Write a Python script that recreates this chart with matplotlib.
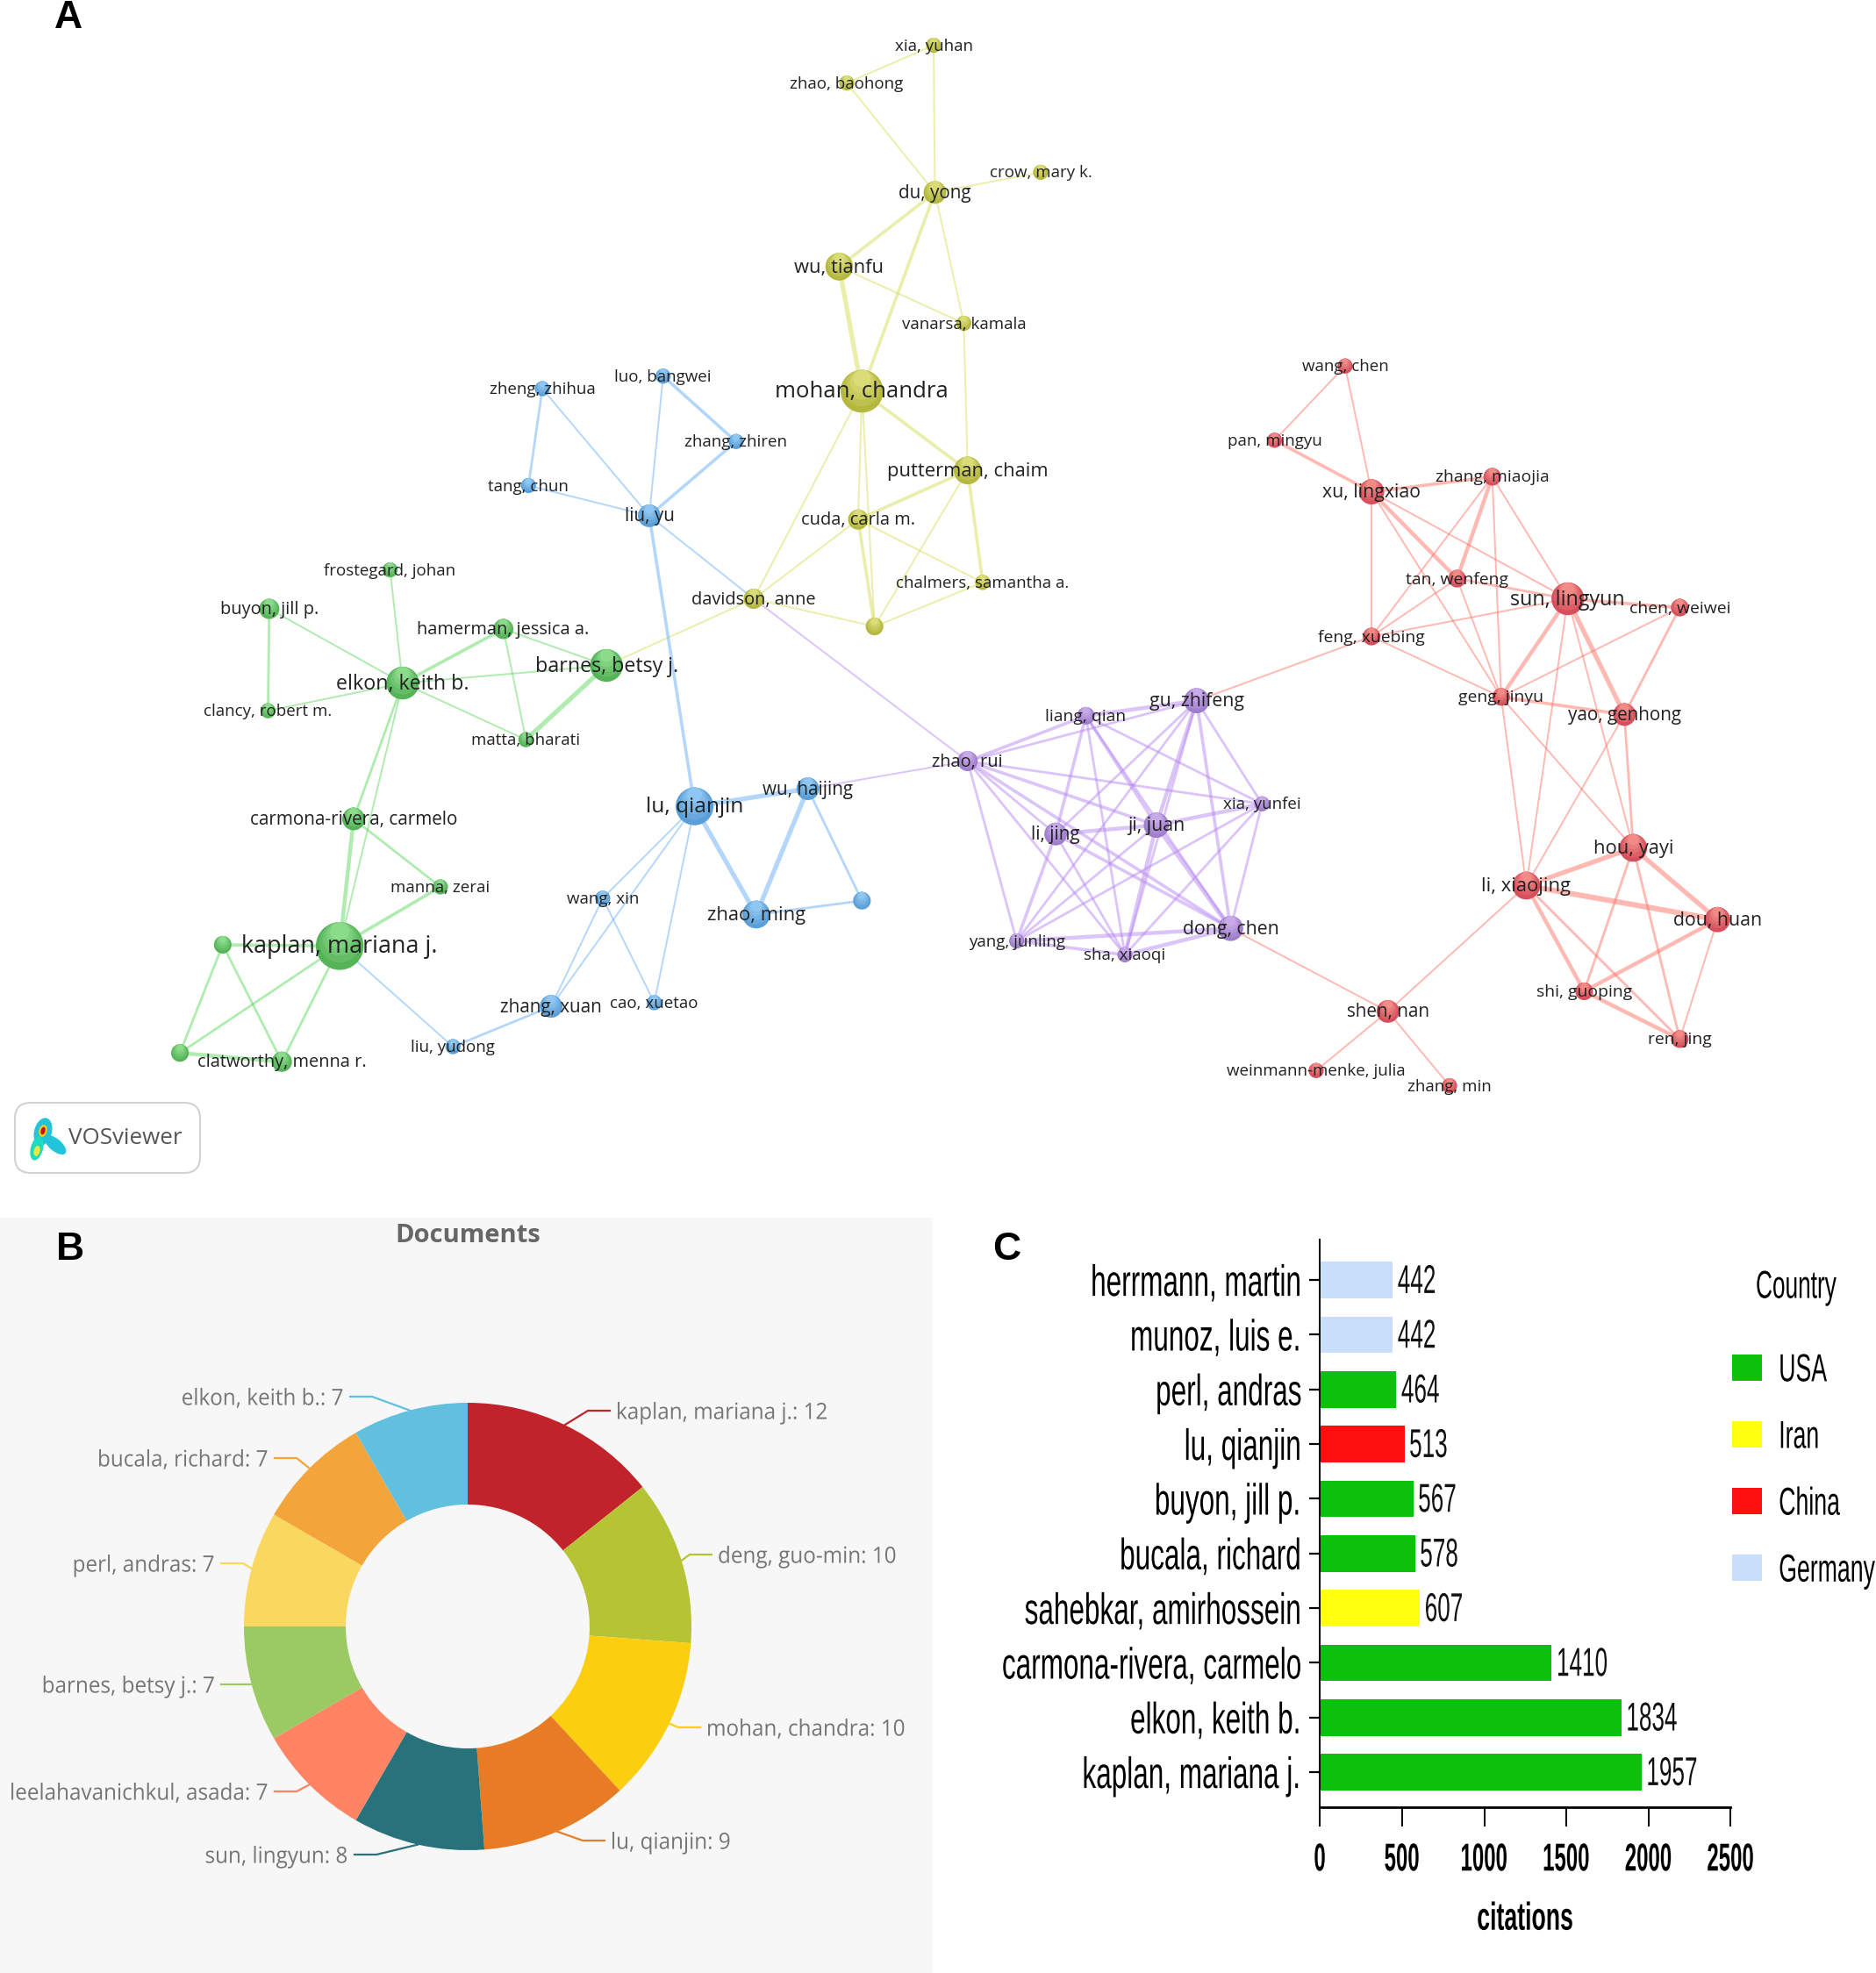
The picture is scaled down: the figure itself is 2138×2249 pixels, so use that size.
import numpy as np
import matplotlib
matplotlib.use("Agg")
import matplotlib.pyplot as plt
import matplotlib.colors as mcolors
from matplotlib.patches import FancyBboxPatch, Ellipse, Patch
from matplotlib.patheffects import AbstractPathEffect
from matplotlib.transforms import Affine2D, Bbox

W, H = 2138, 2249
SCALE = 1.434  # network layout was read at 1491 px wide

# ---- panel A: co-authorship network
yellow_nodes = [("xia, yuhan", 742, 36, 6), ("zhao, baohong", 673, 66, 6), ("du, yong", 743, 153, 9),
                ("crow, mary k.", 827, 137, 6), ("wu, tianfu", 667, 212, 11), ("vanarsa, kamala", 766, 257, 6),
                ("mohan, chandra", 685, 311, 17), ("putterman, chaim", 769, 374, 11), ("cuda, carla m.", 682, 413, 8),
                ("chalmers, samantha a.", 781, 463, 6), ("davidson, anne", 599, 476, 8), ("", 695, 498, 7)]
blue_nodes = [("zheng, zhihua", 431, 309, 6), ("luo, bangwei", 527, 299, 6), ("zhang, zhiren", 585, 351, 6),
              ("tang, chun", 420, 386, 6), ("liu, yu", 516, 410, 9), ("lu, qianjin", 552, 641, 15),
              ("wu, haijing", 642, 627, 9), (" ", 685, 716, 7), ("zhao, ming", 601, 727, 11),
              ("wang, xin", 479, 714, 6), ("zhang, xuan", 438, 800, 9), ("cao, xuetao", 520, 797, 6),
              ("liu, yudong", 360, 832, 6)]
green_nodes = [("frostegard, johan", 310, 453, 6), ("buyon, jill p.", 214, 484, 8), ("hamerman, jessica a.", 400, 500, 8),
               ("barnes, betsy j.", 482, 529, 13), ("elkon, keith b.", 320, 543, 13), ("clancy, robert m.", 213, 565, 6),
               ("matta, bharati", 418, 588, 6), ("carmona-rivera, carmelo", 281, 651, 9), ("manna, zerai", 350, 705, 6),
               ("kaplan, mariana j.", 270, 752, 19), ("  ", 177, 751, 7), ("   ", 143, 837, 7),
               ("clatworthy, menna r.", 224, 844, 8)]
purple_nodes = [("gu, zhifeng", 951, 557, 10), ("liang, qian", 863, 569, 7), ("zhao, rui", 769, 605, 8),
                ("xia, yunfei", 1003, 639, 6), ("ji, juan", 919, 656, 10), ("li, jing", 839, 663, 9),
                ("yang, junling", 808, 748, 6), ("sha, xiaoqi", 894, 759, 6), ("dong, chen", 978, 738, 10)]
red_nodes = [("wang, chen", 1069, 291, 6), ("pan, mingyu", 1013, 350, 6), ("xu, lingxiao", 1090, 391, 10),
             ("zhang, miaojia", 1186, 379, 7), ("tan, wenfeng", 1158, 460, 7), ("sun, lingyun", 1246, 476, 13),
             ("chen, weiwei", 1335, 483, 7), ("feng, xuebing", 1090, 506, 7), ("geng, jinyu", 1193, 554, 7),
             ("yao, genhong", 1291, 568, 9), ("hou, yayi", 1298, 674, 11), ("li, xiaojing", 1213, 704, 11),
             ("dou, huan", 1365, 731, 10), ("shi, guoping", 1259, 788, 7), ("ren, jing", 1335, 826, 7),
             ("shen, nan", 1103, 804, 9), ("weinmann-menke, julia", 1046, 851, 6), ("zhang, min", 1152, 863, 6)]

yellow_edges = [("xia, yuhan", "zhao, baohong", 1), ("xia, yuhan", "du, yong", 1), ("zhao, baohong", "du, yong", 1),
                ("du, yong", "crow, mary k.", 1), ("du, yong", "wu, tianfu", 2), ("du, yong", "vanarsa, kamala", 1),
                ("du, yong", "mohan, chandra", 2), ("wu, tianfu", "mohan, chandra", 3), ("wu, tianfu", "vanarsa, kamala", 1),
                ("vanarsa, kamala", "putterman, chaim", 1), ("mohan, chandra", "putterman, chaim", 2),
                ("mohan, chandra", "cuda, carla m.", 1), ("mohan, chandra", "", 1), ("mohan, chandra", "davidson, anne", 1),
                ("putterman, chaim", "cuda, carla m.", 2), ("putterman, chaim", "chalmers, samantha a.", 2),
                ("putterman, chaim", "", 1), ("cuda, carla m.", "", 2), ("cuda, carla m.", "davidson, anne", 1),
                ("cuda, carla m.", "chalmers, samantha a.", 1), ("chalmers, samantha a.", "", 1),
                ("davidson, anne", "", 1), ("davidson, anne", "barnes, betsy j.", 1)]
blue_edges = [("zheng, zhihua", "tang, chun", 1.5), ("zheng, zhihua", "liu, yu", 1), ("luo, bangwei", "zhang, zhiren", 2),
              ("luo, bangwei", "liu, yu", 1), ("zhang, zhiren", "liu, yu", 2), ("tang, chun", "liu, yu", 1),
              ("liu, yu", "lu, qianjin", 2), ("liu, yu", "davidson, anne", 1), ("lu, qianjin", "wu, haijing", 3),
              ("lu, qianjin", "zhao, ming", 3), ("lu, qianjin", "wang, xin", 1), ("lu, qianjin", "zhang, xuan", 1),
              ("lu, qianjin", "cao, xuetao", 1), ("wu, haijing", "zhao, ming", 3), ("wu, haijing", " ", 1.5),
              ("zhao, ming", " ", 1.5), ("wang, xin", "zhang, xuan", 1), ("wang, xin", "cao, xuetao", 1),
              ("zhang, xuan", "liu, yudong", 1.5), ("kaplan, mariana j.", "liu, yudong", 1)]
green_edges = [("frostegard, johan", "elkon, keith b.", 1), ("buyon, jill p.", "elkon, keith b.", 1),
               ("buyon, jill p.", "clancy, robert m.", 1.5), ("clancy, robert m.", "elkon, keith b.", 1),
               ("elkon, keith b.", "hamerman, jessica a.", 2), ("elkon, keith b.", "barnes, betsy j.", 1),
               ("elkon, keith b.", "matta, bharati", 1), ("hamerman, jessica a.", "barnes, betsy j.", 1),
               ("hamerman, jessica a.", "matta, bharati", 1), ("barnes, betsy j.", "matta, bharati", 3),
               ("elkon, keith b.", "carmona-rivera, carmelo", 1.5), ("elkon, keith b.", "kaplan, mariana j.", 1),
               ("carmona-rivera, carmelo", "kaplan, mariana j.", 2.5), ("carmona-rivera, carmelo", "manna, zerai", 1.5),
               ("manna, zerai", "kaplan, mariana j.", 2), ("kaplan, mariana j.", "   ", 1.5), ("kaplan, mariana j.", "  ", 2),
               ("kaplan, mariana j.", "clatworthy, menna r.", 1.5), ("  ", "   ", 1.5), ("  ", "clatworthy, menna r.", 1.5),
               ("   ", "clatworthy, menna r.", 2.5)]
purple_edges = [("zhao, rui", "gu, zhifeng", 1.5), ("zhao, rui", "liang, qian", 2), ("zhao, rui", "ji, juan", 2),
                ("zhao, rui", "li, jing", 1.5), ("zhao, rui", "xia, yunfei", 1.5), ("zhao, rui", "yang, junling", 1.5),
                ("zhao, rui", "dong, chen", 2), ("zhao, rui", "sha, xiaoqi", 1.5), ("gu, zhifeng", "liang, qian", 2.5),
                ("gu, zhifeng", "ji, juan", 2.5), ("gu, zhifeng", "li, jing", 1.5), ("gu, zhifeng", "xia, yunfei", 1.5),
                ("gu, zhifeng", "dong, chen", 2), ("gu, zhifeng", "sha, xiaoqi", 1.5), ("gu, zhifeng", "yang, junling", 1.5),
                ("liang, qian", "ji, juan", 2), ("liang, qian", "li, jing", 2), ("liang, qian", "dong, chen", 1.5),
                ("liang, qian", "sha, xiaoqi", 1.5), ("liang, qian", "xia, yunfei", 1.5), ("ji, juan", "li, jing", 2.5),
                ("ji, juan", "xia, yunfei", 2.5), ("ji, juan", "dong, chen", 3), ("ji, juan", "sha, xiaoqi", 2.5),
                ("ji, juan", "yang, junling", 1.5), ("li, jing", "yang, junling", 2), ("li, jing", "sha, xiaoqi", 1.5),
                ("li, jing", "dong, chen", 2), ("yang, junling", "xia, yunfei", 1.5), ("yang, junling", "sha, xiaoqi", 2),
                ("yang, junling", "dong, chen", 2.5), ("dong, chen", "xia, yunfei", 1.5), ("dong, chen", "sha, xiaoqi", 2.5),
                ("sha, xiaoqi", "xia, yunfei", 1.5), ("davidson, anne", "zhao, rui", 1), ("wu, haijing", "zhao, rui", 1)]
red_edges = [("wang, chen", "pan, mingyu", 1), ("wang, chen", "xu, lingxiao", 1), ("pan, mingyu", "xu, lingxiao", 2),
             ("xu, lingxiao", "zhang, miaojia", 2), ("xu, lingxiao", "tan, wenfeng", 2.5), ("xu, lingxiao", "sun, lingyun", 1),
             ("xu, lingxiao", "feng, xuebing", 1), ("xu, lingxiao", "geng, jinyu", 1), ("zhang, miaojia", "tan, wenfeng", 2.5),
             ("zhang, miaojia", "sun, lingyun", 1), ("zhang, miaojia", "feng, xuebing", 1), ("zhang, miaojia", "geng, jinyu", 1),
             ("tan, wenfeng", "sun, lingyun", 1.5), ("tan, wenfeng", "feng, xuebing", 1), ("tan, wenfeng", "geng, jinyu", 1),
             ("feng, xuebing", "sun, lingyun", 1), ("feng, xuebing", "geng, jinyu", 1), ("sun, lingyun", "chen, weiwei", 2),
             ("sun, lingyun", "geng, jinyu", 2.5), ("sun, lingyun", "yao, genhong", 3), ("sun, lingyun", "li, xiaojing", 1),
             ("sun, lingyun", "hou, yayi", 1), ("chen, weiwei", "geng, jinyu", 1), ("chen, weiwei", "yao, genhong", 1.5),
             ("geng, jinyu", "yao, genhong", 2), ("geng, jinyu", "hou, yayi", 1), ("geng, jinyu", "li, xiaojing", 1),
             ("yao, genhong", "hou, yayi", 1.5), ("yao, genhong", "li, xiaojing", 1), ("hou, yayi", "li, xiaojing", 3),
             ("hou, yayi", "dou, huan", 3), ("hou, yayi", "shi, guoping", 1.5), ("hou, yayi", "ren, jing", 1.5),
             ("li, xiaojing", "dou, huan", 3.5), ("li, xiaojing", "shi, guoping", 2.5), ("li, xiaojing", "ren, jing", 1.5),
             ("li, xiaojing", "shen, nan", 1), ("dou, huan", "shi, guoping", 2.5), ("dou, huan", "ren, jing", 1),
             ("shi, guoping", "ren, jing", 2.5), ("shen, nan", "weinmann-menke, julia", 1), ("shen, nan", "zhang, min", 1),
             ("feng, xuebing", "gu, zhifeng", 1), ("dong, chen", "shen, nan", 1)]

# ---- panel B: documents per author
doc_authors = ["kaplan, mariana j.", "deng, guo-min", "mohan, chandra", "lu, qianjin", "sun, lingyun",
               "leelahavanichkul, asada", "barnes, betsy j.", "perl, andras", "bucala, richard", "elkon, keith b."]
doc_counts = [12, 10, 10, 9, 8, 7, 7, 7, 7, 7]
doc_colors = ["#c1232b", "#b5c334", "#fcce10", "#e87c25", "#27727b",
              "#fe8463", "#9bca63", "#fad860", "#f3a43b", "#60c0dd"]
# where each label's leader line ends, in image pixels
doc_label_x = [702, 818, 805, 696, 397, 306, 245, 245, 306, 392]
doc_label_y = [1608, 1772, 1969, 2098, 2114, 2042, 1920, 1782, 1662, 1592]

# ---- panel C: citations per author
cite_authors = ["kaplan, mariana j.", "elkon, keith b.", "carmona-rivera, carmelo", "sahebkar, amirhossein",
                "bucala, richard", "buyon, jill p.", "lu, qianjin", "perl, andras", "munoz, luis e.", "herrmann, martin"]
cite_values = [1957, 1834, 1410, 607, 578, 567, 513, 464, 442, 442]
cite_country = ["USA", "USA", "USA", "Iran", "USA", "USA", "China", "USA", "Germany", "Germany"]
country_names = ["USA", "Iran", "China", "Germany"]
country_colors = {"USA": "#0cc00c", "Iran": "#ffff10", "China": "#ff1010", "Germany": "#c9defa"}

SANS = "Liberation Sans"


class Squeeze(AbstractPathEffect):
    # the reference was stretched tall, so its text is condensed sideways
    def __init__(self, sx, anchor=0.0):
        super().__init__()
        self.sx = sx
        self.anchor = anchor

    def draw_path(self, renderer, gc, tpath, affine, rgbFace=None):
        width = tpath.get_extents().x1
        shift = (1 - self.sx) * self.anchor * width
        renderer.draw_path(gc, tpath, Affine2D().scale(self.sx, 1).translate(shift, 0) + affine, rgbFace)


def condense(text, sx, anchor):
    # squeeze the drawn glyphs and report the extent that is really drawn
    text.set_path_effects([Squeeze(sx, anchor)])
    natural = text.get_window_extent

    def drawn_extent(renderer=None, dpi=None):
        box = natural(renderer, dpi)
        x0 = box.x0 + (1 - sx) * anchor * box.width
        return Bbox.from_extents(x0, box.y0, x0 + sx * box.width, box.y1)

    text.get_window_extent = drawn_extent


fig = plt.figure(figsize=(W / 100, H / 100), dpi=100, facecolor="white")


def px_axes(x0, y0, x1, y1, **kw):
    # axes placed by image pixels, y0 is the top edge
    return fig.add_axes([x0 / W, 1 - y1 / H, (x1 - x0) / W, (y1 - y0) / H], **kw)


# panel B
ax_b = px_axes(0, 1388, 1063, H, facecolor="#f7f7f7")
cx, cy, R = 533, H - 1854, 255
wedges, _ = ax_b.pie(doc_counts, colors=doc_colors, startangle=90, counterclock=False,
                     center=(cx, cy), radius=R, wedgeprops=dict(width=116), frame=True)
ax_b.set_xlim(0, 1063)
ax_b.set_ylim(0, H - 1388)
ax_b.set_aspect("auto")
ax_b.set_xticks([])
ax_b.set_yticks([])
for s in ax_b.spines.values():
    s.set_visible(False)

for w, name, n, color, lx, ly in zip(wedges, doc_authors, doc_counts, doc_colors, doc_label_x, doc_label_y):
    mid = np.deg2rad((w.theta1 + w.theta2) / 2)
    ly = H - ly
    sx, sy = cx + R * np.cos(mid), cy + R * np.sin(mid)
    side = 1 if np.cos(mid) > 0 else -1
    ax_b.plot([sx, lx - side * 32, lx - side * 7], [sy, ly, ly], color=color, lw=1.6, solid_joinstyle="round")
    t = ax_b.text(lx, ly - 3, f"{name}: {n}", ha="left" if side > 0 else "right", va="center",
                  fontsize=18.5, color="#767676", family="Open Sans")
    condense(t, 0.945, 0 if side > 0 else 1)
ax_b.text(533, H - 1409, "Documents", ha="center", va="center", fontsize=21, fontweight="bold",
          color="#666666", family="Open Sans")

# panel C
ax_c = px_axes(1504.5, 1413, 1972.5, 2060, facecolor="none")
ypos = np.arange(len(cite_authors))
bars = ax_c.barh(ypos, cite_values, height=0.668, color=[country_colors[c] for c in cite_country])
for lab in ax_c.bar_label(bars, padding=4, fontsize=33, family=SANS, color="#111111"):
    lab.xyann = (4, -2)
    condense(lab, 0.57, 0)
ax_c.set_xlim(0, 2500)
ax_c.set_ylim(-0.64, 9.74)
ax_c.set_yticks(ypos, cite_authors, fontsize=36, family=SANS)
ax_c.set_xticks(np.arange(0, 2501, 500))
ax_c.tick_params(axis="y", length=9, width=1.6, pad=5.5)
ax_c.tick_params(axis="x", length=16, width=1.4, pad=13)
for lab in ax_c.get_yticklabels():
    condense(lab, 0.63, 1)
for lab in ax_c.get_xticklabels():
    lab.set_fontproperties(dict(family=SANS, weight="bold", size=32))
    condense(lab, 0.54, 0.5)
ax_c.set_xlabel("citations", fontsize=32, fontweight="bold", family=SANS, labelpad=19)
condense(ax_c.xaxis.label, 0.6, 0.5)
ax_c.spines[["top", "right"]].set_visible(False)
ax_c.spines["left"].set_linewidth(1.4)
ax_c.spines["bottom"].set_linewidth(2)

handles = [Patch(facecolor=country_colors[c], label=c) for c in country_names]
leg = ax_c.legend(handles=handles, frameon=False, loc="upper left",
                  bbox_to_anchor=(1.003, 0.80), borderaxespad=0, borderpad=0,
                  prop=dict(family=SANS, size=32), handlelength=0.77, handleheight=0.68,
                  handletextpad=0.43, labelspacing=0.79)
for t in leg.get_texts():
    condense(t, 0.6, 0)

# panel A and the panel letters, all in image pixels
ax = fig.add_axes([0, 0, 1, 1], facecolor="none")
ax.set_xlim(0, W)
ax.set_ylim(H, 0)
ax.axis("off")

clusters = [(yellow_nodes, yellow_edges, "#b5b83e", "#dadc78", "#d6de58"),
            (blue_nodes, blue_edges, "#5a9fd8", "#8fc6f2", "#6ab0f5"),
            (green_nodes, green_edges, "#55b358", "#8adb8a", "#62d862"),
            (purple_nodes, purple_edges, "#9f7ecb", "#c8aae9", "#b98af0"),
            (red_nodes, red_edges, "#d64f5c", "#f28a86", "#ff7468")]
where = {n[0]: n[1:3] for c in clusters for n in c[0]}

for nodes, edges, low, high, edge_color in clusters:
    for a, b, wt in edges:
        ax.plot([where[a][0] * SCALE, where[b][0] * SCALE], [where[a][1] * SCALE, where[b][1] * SCALE],
                color=edge_color, alpha=0.5, lw=1.4 + (wt - 1) * 1.2, solid_capstyle="round", zorder=1)
for nodes, edges, low, high, edge_color in clusters:
    xs = np.array([n[1] for n in nodes]) * SCALE
    ys = np.array([n[2] for n in nodes]) * SCALE
    rs = np.array([n[3] for n in nodes]) * SCALE
    # nested discs touching at the top give the dark-to-light shading of the nodes
    for k, frac in enumerate([1.0, 0.85, 0.7, 0.55, 0.4]):
        col = np.array(mcolors.to_rgb(low)) * (1 - k / 4) + np.array(mcolors.to_rgb(high)) * (k / 4)
        ax.scatter(xs, ys - rs * (1 - frac), s=(2 * rs * frac * 0.72) ** 2, color=[col], linewidths=0, zorder=2)
    for (name, _, _, r), x, y in zip(nodes, xs, ys):
        if name.strip():
            ax.text(x, y + 1, name, ha="center", va="center", fontsize=13.5 + (r - 6) * 0.46,
                    color="#222222", family="Open Sans", zorder=3)

# VOSviewer badge
ax.add_patch(FancyBboxPatch((17 + 15, 1257 + 15), 211 - 30, 80 - 30, boxstyle="round,pad=15,rounding_size=18",
                            lw=1.5, ec="#d2d2d2", fc="white", zorder=4))
for ex, ey, ew, eh, ang, col in [(49, 1290, 20, 32, 15, "#21c4d8"), (63, 1305, 30, 14, 40, "#21c4d8"),
                                 (42, 1309, 14, 28, 15, "#21d8c0"), (49, 1289, 9, 14, 15, "#ffd000"),
                                 (49, 1289, 5, 9, 15, "#c81010"), (42, 1312, 7, 12, 15, "#e8e840")]:
    ax.add_patch(Ellipse((ex, ey), ew, eh, angle=ang, fc=col, lw=0, zorder=5))
ax.text(78, 1297, "VOSviewer", ha="left", va="center", fontsize=18.7, color="#555555", family="Open Sans", zorder=5)

country_title = ax.text(2047, 1468, "Country", ha="center", va="center", fontsize=32, family=SANS, zorder=6)
condense(country_title, 0.59, 0.5)
for letter, x, y in [("A", 78, 20), ("B", 80, 1424), ("C", 1147, 1424)]:
    ax.text(x, y, letter, ha="center", va="center", fontsize=32, fontweight="bold", family=SANS, zorder=6)

fig.savefig("out.png", dpi=100)
plt.close(fig)
